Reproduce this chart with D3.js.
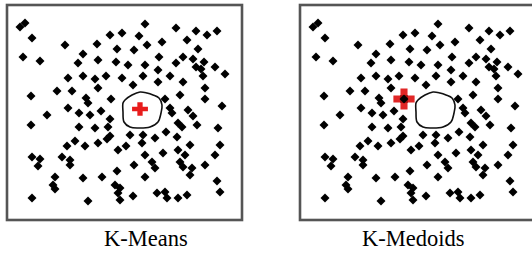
<!DOCTYPE html>
<html><head><meta charset="utf-8">
<script src="https://cdn.jsdelivr.net/npm/d3@7"></script>
<style>html,body{margin:0;padding:0;background:#fff;}svg{display:block;}</style>
</head><body>
<svg id="chart" width="532" height="253"></svg>
<script>
// Data points (unitless, x to the right, y upwards)
const pointX = [13,18,25,58,90,103,115,132,16,33,76,71,91,110,109,121,127,61,76,88,99,115,91,126,24,50,65,79,81,104,61,40,72,83,94,
  138,169,189,200,210,140,155,180,191,152,169,176,186,197,189,194,208,218,138,151,136,163,176,196,151,198,173,198,158,215,163,165,181,186,
  24,72,88,101,103,68,60,78,91,100,111,119,123,25,33,31,55,63,63,127,110,48,46,48,76,95,108,113,111,126,113,25,81,
  171,175,190,211,159,170,183,213,136,148,135,156,171,178,208,138,145,148,173,176,185,198,183,138,210,213,150,158,160,171,180,103];
const pointY = [193,197,182,175,176,185,187,184,163,159,166,157,160,171,158,155,170,142,144,141,144,142,132,135,124,129,129,122,117,121,112,105,107,105,109,
  196,192,189,185,189,175,178,180,171,163,157,163,161,158,153,151,153,146,155,150,144,144,138,144,138,132,125,121,121,114,112,107,110,104,
  95,93,92,93,84,79,74,74,77,81,70,74,85,63,61,54,63,60,55,55,49,43,35,31,42,43,35,32,27,24,20,22,19,
  97,93,95,92,88,83,75,75,85,82,77,67,70,65,65,65,58,52,58,53,52,55,45,43,39,28,27,28,22,22,25,101];

// Cluster boundary (same region in both panels)
const blobX = [118,125,133,140,146,152,155,154,151,143,131,123,117,116,116];
const blobY = [120,125,128,127,125,122,115,107,98,93,92,93,98,108,117];

// Cluster representatives
const centroid = {x: 133, y: 111};   // K-Means mean
const medoid   = {x: 104, y: 121};   // K-Medoids medoid (a data point)

const titles = ["K-Means", "K-Medoids"];

const svg = d3.select("#chart");
const points = pointX.map((x, i) => ({x, y: pointY[i]}));
const blob = blobX.map((x, i) => ({x, y: blobY[i]}));

const panels = [
  {x0: 7, x1: 242, title: titles[0], tx: 104, rep: centroid, medoid: false},
  {x0: 300, x1: 535, title: titles[1], tx: 362, rep: medoid, medoid: true}
];

panels.forEach(p => {
  const sx = d3.scaleLinear().domain([0, 235]).range([p.x0, p.x1]);
  const sy = d3.scaleLinear().domain([0, 215]).range([220, 5]);
  const g = svg.append("g");

  g.append("rect").attr("x", p.x0).attr("y", 5)
    .attr("width", p.x1 - p.x0).attr("height", 215)
    .attr("fill", "#fff").attr("stroke", "#555").attr("stroke-width", 2.6);

  const sym = d3.symbol().type(d3.symbolSquare).size(40);
  g.selectAll("path.pt").data(points).join("path").attr("class", "pt")
    .attr("d", sym)
    .attr("transform", d => `translate(${sx(d.x)},${sy(d.y)}) rotate(45)`)
    .attr("fill", "#000");

  const line = d3.line().x(d => sx(d.x)).y(d => sy(d.y)).curve(d3.curveCatmullRomClosed);
  g.append("path").attr("d", line(blob))
    .attr("fill", "#fff").attr("stroke", "#111").attr("stroke-width", 1.6);

  if (!p.medoid) {
    g.append("path").attr("d", d3.symbol().type(d3.symbolCross).size(140)())
      .attr("transform", `translate(${sx(p.rep.x)},${sy(p.rep.y)}) scale(1,0.85)`)
      .attr("fill", "#e81c1c");
  } else {
    g.append("path").attr("d", d3.symbol().type(d3.symbolCross).size(250)())
      .attr("transform", `translate(${sx(p.rep.x)},${sy(p.rep.y)})`)
      .attr("fill", "#e02626");
    g.append("path").attr("d", d3.symbol().type(d3.symbolSquare).size(60)())
      .attr("transform", `translate(${sx(p.rep.x)},${sy(p.rep.y)})`)
      .attr("fill", "#a01010");
    g.append("path").attr("d", sym())
      .attr("transform", `translate(${sx(p.rep.x)},${sy(p.rep.y)}) rotate(45)`)
      .attr("fill", "#000");
  }

  svg.append("text").attr("x", p.tx).attr("y", 246)
    .attr("font-family", "'Liberation Serif','Times New Roman',serif")
    .attr("font-size", 22.5).attr("fill", "#000")
    .text(p.title);
});
</script>
</body></html>
